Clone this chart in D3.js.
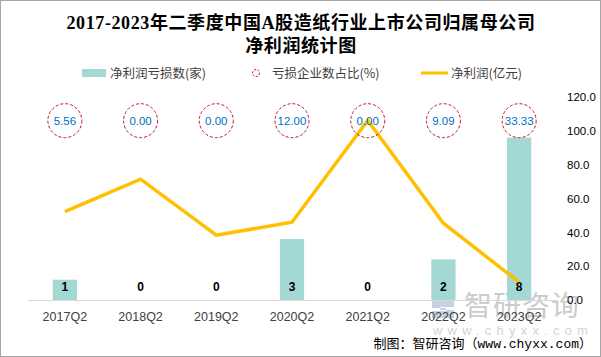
<!DOCTYPE html>
<html><head><meta charset="utf-8">
<script src="https://cdn.jsdelivr.net/npm/d3@7/dist/d3.min.js"></script>
<style>
html,body{margin:0;padding:0;background:#fff;}
svg{display:block;}
</style></head>
<body>
<svg id="c" width="601" height="357"></svg>
<script>
const categories = ["2017Q2","2018Q2","2019Q2","2020Q2","2021Q2","2022Q2","2023Q2"];
const lossCount = [1,0,0,3,0,2,8];
const lossRatio = [5.56,0.00,0.00,12.00,0.00,9.09,33.33];
const netProfit = [52.2,71.4,38.3,46.0,106.1,45.4,10.5];
const rightTicks = [0,20,40,60,80,100,120];
const titleLines = ["2017-2023年二季度中国A股造纸行业上市公司归属母公司","净利润统计图"];
const legendLabels = ["净利润亏损数(家)","亏损企业数占比(%)","净利润(亿元)"];

const svg = d3.select("#c");
const sans = "'Liberation Sans','Noto Sans CJK SC',sans-serif";
const cjk = "'Noto Sans CJK SC','Liberation Sans',sans-serif";

svg.append("rect").attr("x",0.5).attr("y",0.5).attr("width",600).attr("height",356)
  .attr("fill","#fff").attr("stroke","#a6a6a6");

// title
svg.append("g").selectAll("text").data(titleLines).join("text")
  .attr("x",301).attr("y",(d,i)=>29+i*23)
  .attr("text-anchor","middle")
  .attr("font-family","'Liberation Serif','Noto Sans CJK SC',serif")
  .attr("font-weight","bold").attr("font-size",18).attr("letter-spacing",0.6).attr("fill","#000")
  .text(d=>d);

const x = d3.scaleBand().domain(categories).range([27,557]);
const yL = d3.scaleLinear().domain([0,10]).range([300,97]);
const yR = d3.scaleLinear().domain([0,120]).range([300,97]);
const bw = x.bandwidth()*0.32;
const cx = d => x(d)+x.bandwidth()/2;

// watermark
const wm = svg.append("g").attr("opacity",0.5);
wm.append("path").attr("d","M432,300 h22 v7 h-14 v3 h14 v8 h-22 v-7 h14 v-3 h-14 z")
  .attr("fill","#8fa6c4");
wm.append("text").attr("x",464).attr("y",316).attr("font-family",cjk)
  .attr("font-size",28).attr("fill","#9a9a9a").attr("letter-spacing",1).text("智研咨询");
wm.append("text").attr("x",433).attr("y",335).attr("font-family",sans)
  .attr("font-size",13).attr("fill","#a8a8a8").attr("letter-spacing",5.2).text("www.chyxx.com");

// bars
svg.append("g").selectAll("rect").data(lossCount).join("rect")
  .attr("x",(d,i)=>cx(categories[i])-bw/2)
  .attr("y",d=>yL(d)).attr("width",bw).attr("height",d=>yL(0)-yL(d))
  .attr("fill","#a3d8d5");

// x axis
const xa = svg.append("g").attr("transform","translate(0,300)")
  .call(d3.axisBottom(x).tickSize(0).tickPadding(12));
xa.select(".domain").attr("stroke","#d9d9d9");
xa.selectAll("text").attr("font-family",sans).attr("font-size",12.5).attr("fill","#404040");

// right axis
const ya = svg.append("g").attr("transform","translate(563,0)")
  .call(d3.axisRight(yR).tickValues(rightTicks).tickFormat(d3.format(".1f")).tickSize(0).tickPadding(4));
ya.select(".domain").remove();
ya.selectAll("text").attr("font-family",sans).attr("font-size",11.5).attr("fill","#000");

// line
svg.append("path").datum(netProfit)
  .attr("d",d3.line().x((d,i)=>cx(categories[i])).y(d=>yR(d)))
  .attr("fill","none").attr("stroke","#ffc000").attr("stroke-width",3.5).attr("stroke-linejoin","miter");

// bar labels
svg.append("g").selectAll("text").data(lossCount).join("text")
  .attr("x",(d,i)=>cx(categories[i])).attr("y",yL(0)-9)
  .attr("text-anchor","middle").attr("font-family",sans).attr("font-weight","bold")
  .attr("font-size",12).attr("fill","#000").text(d=>d);

// ratio circles
const circleLevel = 106;
const cg = svg.append("g");
cg.selectAll("circle").data(lossRatio).join("circle")
  .attr("cx",(d,i)=>cx(categories[i])).attr("cy",yR(circleLevel)).attr("r",17)
  .attr("fill","none").attr("stroke","#c8102e").attr("stroke-width",1).attr("stroke-dasharray","3,2");
cg.selectAll("text").data(lossRatio).join("text")
  .attr("x",(d,i)=>cx(categories[i])).attr("y",yR(circleLevel)+4)
  .attr("text-anchor","middle").attr("font-family",sans).attr("font-size",11.5)
  .attr("fill","#0070c0").text(d=>d3.format(".2f")(d));

// legend
const lg = svg.append("g").attr("font-family",cjk).attr("font-size",12.5).attr("fill","#404040");
lg.append("rect").attr("x",82).attr("y",69).attr("width",24).attr("height",8).attr("fill","#a3d8d5");
lg.append("text").attr("x",110).attr("y",77.5).text(legendLabels[0]);
lg.append("circle").attr("cx",256).attr("cy",73).attr("r",3.5).attr("fill","none")
  .attr("stroke","#c8102e").attr("stroke-dasharray","2,1.5");
lg.append("text").attr("x",272).attr("y",77.5).text(legendLabels[1]);
lg.append("line").attr("x1",421).attr("x2",448).attr("y1",73).attr("y2",73)
  .attr("stroke","#ffc000").attr("stroke-width",3);
lg.append("text").attr("x",451).attr("y",77.5).text(legendLabels[2]);

// footer
const ft = svg.append("text").attr("x",592).attr("y",348).attr("text-anchor","end")
  .attr("font-family","'Noto Sans CJK SC',sans-serif").attr("font-size",13).attr("fill","#000");
ft.append("tspan").text("制图：智研咨询（");
ft.append("tspan").attr("font-family","'Liberation Mono',monospace").text("www.chyxx.com");
ft.append("tspan").text("）");
</script>
</body></html>
